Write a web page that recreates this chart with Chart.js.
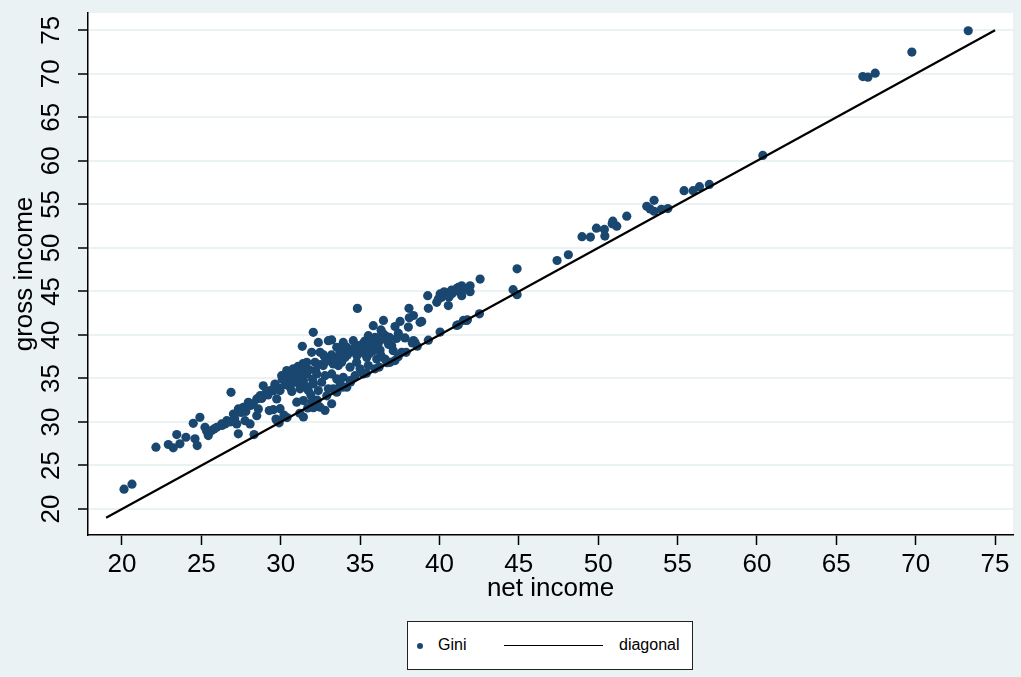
<!DOCTYPE html>
<html>
<head>
<meta charset="utf-8">
<script src="https://cdn.jsdelivr.net/npm/chart.js@4.4.1/dist/chart.umd.min.js"></script>
<style>
  html, body { margin: 0; padding: 0; background: #eaf2f3; }
  #wrap { position: relative; width: 1021px; height: 677px; overflow: hidden; }
  #chart { position: absolute; left: 0; top: 0; }
  #legend {
    position: absolute; left: 407px; top: 621px; width: 284px; height: 47px;
    background: #fff; border: 1px solid #222;
    font-family: "Liberation Sans", Arial, sans-serif; font-size: 16px; color: #000;
  }
  #legend .dot { position: absolute; left: 9px; top: 21px; width: 6px; height: 6px; border-radius: 50%; background: #1a476f; }
  #legend .txt { position: absolute; top: 14px; line-height: 18px; white-space: nowrap; }
  #legend .ln { position: absolute; left: 96px; top: 23px; width: 99px; height: 0; border-top: 1.5px solid #000; }
</style>
</head>
<body>
<div id="wrap">
  <canvas id="chart" width="1021" height="677"></canvas>
  <div id="legend">
    <span class="dot"></span><span class="txt" style="left:30px">Gini</span>
    <span class="ln"></span><span class="txt" style="left:211px">diagonal</span>
  </div>
</div>
<script>
// Axis ticks
const xTicks = [20, 25, 30, 35, 40, 45, 50, 55, 60, 65, 70, 75];
const yTicks = [20, 25, 30, 35, 40, 45, 50, 55, 60, 65, 70, 75];

// 45-degree reference line (net = gross)
const diagX = [19, 75];
const diagY = [19, 75];

// Gini coefficients: [net income, gross income]
const giniPoints = [
  [73.31,74.95],[69.76,72.5],[67.45,70.07],[66.99,69.62],[66.67,69.69],[60.37,60.62],
  [57.0,57.29],[56.38,57.03],[55.98,56.57],[55.41,56.57],[54.39,54.52],[53.98,54.44],
  [53.52,55.47],[53.52,54.21],[53.27,54.48],[53.06,54.78],[51.8,53.64],[51.17,52.5],
  [50.92,53.07],[50.88,52.77],[50.39,52.12],[50.42,51.36],[49.89,52.27],[49.51,51.24],
  [48.98,51.29],[48.12,49.21],[47.41,48.55],[44.89,47.6],[44.64,45.2],[44.89,44.63],
  [42.56,46.42],[41.93,45.65],[41.93,44.97],[41.4,45.65],[41.19,45.46],[40.98,45.08],
  [40.77,45.16],[40.67,44.89],[40.46,44.71],[40.25,44.71],[40.04,44.71],[40.14,44.32],
  [39.93,44.14],[39.83,43.75],[40.56,43.37],[41.4,44.51],[41.3,44.89],[39.26,44.51],
  [39.3,43.06],[38.08,43.06],[38.36,42.23],[38.1,41.97],[38.88,41.55],[36.47,41.66],
  [37.52,41.55],[37.2,40.97],[38.04,40.9],[37.41,40.2],[37.83,39.65],[38.36,39.35],
  [40.04,40.33],[41.09,41.09],[41.51,41.66],[41.76,41.74],[42.52,42.42],[36.36,40.3],
  [36.57,39.92],[40.3,44.95],[40.8,44.75],[41.6,45.25],[40.6,44.35],[41.1,45.35],
  [34.83,43.05],[38.78,41.45],[35.83,41.06],[36.32,40.57],[36.47,40.1],[36.85,39.71],
  [35.52,39.91],[35.94,39.71],[33.21,39.42],[33.94,39.14],[34.57,39.34],[35.2,39.03],
  [35.63,38.96],[36.15,39.03],[36.78,39.14],[36.99,38.77],[38.46,39.14],[33.53,38.57],
  [34.16,38.57],[34.89,38.76],[35.42,38.57],[36.26,38.27],[33.74,38.0],[34.37,38.0],
  [35.1,38.0],[35.83,38.19],[37.09,38.19],[37.62,38.0],[33.31,37.42],[34.05,37.42],
  [34.78,36.85],[35.42,37.42],[36.05,37.23],[36.57,37.23],[35.52,36.48],[33.63,36.48],
  [34.37,36.29],[35.0,36.1],[35.94,36.1],[36.89,36.85],[37.2,37.05],[34.68,35.32],
  [35.2,35.52],[34.37,34.75],[33.94,35.13],[33.74,34.38],[34.16,34.0],[33.21,35.52],
  [33.31,33.81],[33.53,33.42],
  [32.05,40.3],[31.36,38.69],[32.37,39.14],[33.0,39.34],[31.95,38.0],[32.48,38.0],
  [32.79,37.42],[31.64,36.85],[32.16,36.85],[32.68,36.48],[33.31,36.67],[33.84,36.85],
  [30.38,35.9],[30.79,36.1],[31.22,35.9],[30.69,35.52],[31.11,35.32],[31.64,35.52],
  [32.27,35.52],[32.79,35.32],[30.06,35.32],[30.27,34.75],[30.9,34.56],[31.43,34.75],
  [32.06,34.38],[32.58,34.56],[33.53,34.94],[30.59,33.99],[31.22,33.81],[31.74,33.61],
  [32.37,33.61],[33.0,33.81],[29.64,34.18],[29.96,33.61],[29.33,33.61],[31.01,32.27],
  [31.43,32.46],[31.95,32.27],[32.48,31.7],[33.21,32.09],[29.96,31.52],[29.53,31.41],
  [31.43,30.57],[32.06,31.64],[32.79,31.33],[32.27,31.9],[29.75,30.19],
  [20.13,22.28],[20.63,22.85],[22.14,27.1],[22.92,27.41],[23.23,27.03],[23.45,28.55],
  [23.65,27.49],[24.03,28.24],[24.49,29.84],[24.6,28.06],[24.74,27.29],[24.91,30.53],
  [25.23,29.39],[25.44,28.44],[25.34,28.93],[25.65,29.01],[25.97,29.39],[26.28,29.77],
  [26.6,30.15],[26.87,33.4],[26.49,29.77],[27.02,30.91],[27.33,31.5],[27.33,28.63],
  [27.23,29.77],[27.64,31.69],[27.96,32.26],[27.75,30.15],[28.07,29.77],[28.27,32.07],
  [28.59,31.5],[28.49,30.72],[28.32,28.55],[28.7,33.02],[29.01,33.22],[29.28,31.31],
  [29.53,33.59],[28.9,34.16],[29.64,34.36],[29.85,30.15],[29.7,30.34],[29.75,32.64],
  [28.49,32.64],[38.29,39.07],[41.19,41.16],[41.72,41.66],
  [30.5,35.0],[30.8,35.6],[31.0,35.7],[31.3,35.1],[31.5,36.3],[31.8,36.0],[30.3,34.3],
  [30.6,34.5],[30.9,35.0],[31.2,34.3],[31.6,34.1],[32.0,34.9],[32.2,35.9],[32.5,36.6],
  [32.9,37.0],[33.2,37.7],[33.6,37.3],[33.9,38.2],[34.2,37.7],[34.6,38.4],[35.0,38.6],
  [35.3,39.3],[35.7,39.3],[36.0,38.7],[36.4,39.5],[36.8,38.9],[37.3,39.6],[30.1,34.9],
  [29.9,33.9],[29.2,33.1],[28.8,32.7],[28.1,31.9],[27.8,31.2],[27.5,31.1],[27.1,30.4],
  [26.8,30.0],[26.3,29.6],[25.8,29.2],[25.5,28.9],[31.1,36.4],[31.4,36.7],[32.7,37.7],
  [33.4,37.1],[34.8,37.6],[35.6,37.9],[36.3,37.7],[30.7,33.5],[31.9,33.1],[35.4,35.6],
  [36.2,36.3],[36.7,36.8],[37.4,37.5],[37.9,38.0],[38.6,38.7],[39.3,39.4],[33.9,34.0],
  [34.4,34.6],[32.9,33.0],[32.3,32.5],[31.7,31.6],[31.2,31.0],[30.4,30.5],[29.9,29.9],
  [30.2,30.8]
];

const FONT = '"Liberation Sans", Arial, Helvetica, sans-serif';

// White plot region on the light blue-grey page
const plotBackground = {
  id: 'plotBackground',
  beforeDraw(chart) {
    const { ctx, chartArea: a } = chart;
    ctx.save();
    ctx.fillStyle = '#ffffff';
    ctx.fillRect(a.left, a.top, a.right - a.left, a.bottom - a.top);
    ctx.restore();
  }
};

new Chart(document.getElementById('chart'), {
  data: {
    datasets: [
      {
        type: 'line',
        label: 'diagonal',
        data: diagX.map((x, i) => ({ x, y: diagY[i] })),
        borderColor: '#000000',
        borderWidth: 2.2,
        pointRadius: 0,
        fill: false,
        order: 0
      },
      {
        type: 'scatter',
        label: 'Gini',
        data: giniPoints.map(p => ({ x: p[0], y: p[1] })),
        backgroundColor: '#1a476f',
        borderWidth: 0,
        pointRadius: 4.6,
        order: 1
      }
    ]
  },
  options: {
    responsive: false,
    animation: false,
    devicePixelRatio: 1,
    events: [],
    layout: { padding: { top: 13, right: 8, left: 0, bottom: 0 } },
    plugins: { legend: { display: false }, tooltip: { enabled: false } },
    scales: {
      x: {
        type: 'linear',
        position: 'bottom',
        min: 17.86,
        max: 76.13,
        afterBuildTicks: s => { s.ticks = xTicks.map(v => ({ value: v })); },
        afterFit: s => { s.height = 142; s.paddingLeft = 0; s.paddingRight = 0; },
        grid: { drawOnChartArea: false, drawTicks: true, tickColor: '#000', tickLength: 10, tickWidth: 1.5 },
        border: { display: true, color: '#000', width: 1.5 },
        ticks: { autoSkip: false, maxRotation: 0, padding: 4, color: '#000', font: { family: FONT, size: 26 } },
        title: { display: true, text: 'net income', color: '#000', font: { family: FONT, size: 26 }, padding: { top: 0, bottom: 73 } }
      },
      y: {
        type: 'linear',
        position: 'left',
        min: 17.01,
        max: 76.99,
        afterBuildTicks: s => { s.ticks = yTicks.map(v => ({ value: v })); },
        afterFit: s => { s.width = 88; s.paddingTop = 0; s.paddingBottom = 0; },
        grid: { color: '#eaf2f3', lineWidth: 2, drawTicks: true, tickColor: '#000', tickLength: 10, tickWidth: 1.5 },
        border: { display: true, color: '#000', width: 1.5 },
        ticks: { autoSkip: false, minRotation: 90, maxRotation: 90, crossAlign: 'center', padding: 12, color: '#000', font: { family: FONT, size: 26 } },
        title: { display: true, text: 'gross income', color: '#000', font: { family: FONT, size: 26 }, padding: { top: 9.4, bottom: 0 } }
      }
    }
  },
  plugins: [plotBackground]
});
</script>
</body>
</html>
